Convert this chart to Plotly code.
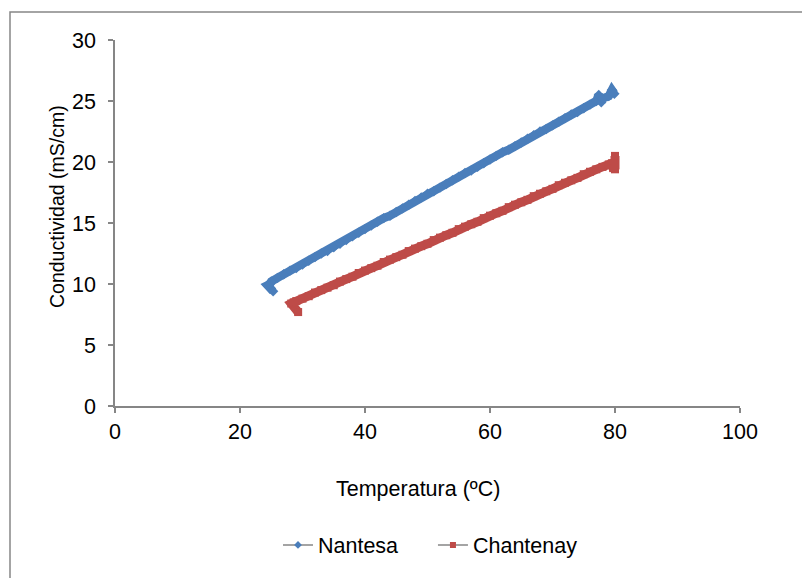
import plotly.graph_objects as go

# Temperature (ºC) and conductivity (mS/cm) readings for each variety
nantesa_temp = [25.3, 24.4, 24.8, 25.0, 26, 27, 28, 29, 30, 31, 32, 33, 34, 35, 36, 37, 38, 39,
                40, 41, 42, 43, 44, 45, 46, 47, 48, 49, 50, 51, 52, 53, 54, 55, 56, 57, 58, 59,
                60, 61, 62, 63, 64, 65, 66, 67, 68, 69, 70, 71, 72, 73, 74, 75, 76, 77, 77.4,
                77.8, 78, 79, 79.5, 79.9]
nantesa_cond = [9.4, 9.9, 10.0, 10.2, 10.5, 10.8, 11.1, 11.3, 11.6, 11.9, 12.2, 12.5, 12.7,
                13.0, 13.3, 13.6, 13.9, 14.2, 14.5, 14.8, 15.1, 15.4, 15.6, 15.9, 16.2, 16.5,
                16.8, 17.1, 17.4, 17.6, 17.9, 18.2, 18.5, 18.8, 19.1, 19.3, 19.6, 19.9, 20.2,
                20.5, 20.8, 21.0, 21.3, 21.6, 21.9, 22.2, 22.5, 22.7, 23.0, 23.3, 23.6, 23.9,
                24.1, 24.4, 24.7, 25.0, 25.5, 24.9, 25.2, 25.4, 25.9, 25.6]

chantenay_temp = [29.3, 28.2, 28.6, 29, 30, 31, 32, 33, 34, 35, 36, 37, 38, 39, 40, 41, 42, 43,
                  44, 45, 46, 47, 48, 49, 50, 51, 52, 53, 54, 55, 56, 57, 58, 59, 60, 61, 62,
                  63, 64, 65, 66, 67, 68, 69, 70, 71, 72, 73, 74, 75, 76, 77, 78, 79, 79.5,
                  79.7, 80.0, 80.0, 80.0]
chantenay_cond = [7.7, 8.4, 8.5, 8.6, 8.8, 9.0, 9.3, 9.5, 9.7, 9.9, 10.2, 10.4, 10.6, 10.9,
                  11.1, 11.3, 11.5, 11.8, 12.0, 12.2, 12.4, 12.7, 12.9, 13.1, 13.3, 13.6, 13.8,
                  14.0, 14.2, 14.5, 14.7, 14.9, 15.1, 15.4, 15.6, 15.8, 16.0, 16.3, 16.5, 16.7,
                  16.9, 17.2, 17.4, 17.6, 17.8, 18.1, 18.3, 18.5, 18.7, 19.0, 19.2, 19.4, 19.6,
                  19.8, 19.9, 19.5, 19.4, 20.0, 20.5]

x_ticks = [0, 20, 40, 60, 80, 100]
y_ticks = [0, 5, 10, 15, 20, 25, 30]

BLUE = "#4a7ebb"
RED = "#be4b48"
AXIS = "#868686"
FONT = "Liberation Sans, Arial, sans-serif"

fig = go.Figure()

# Dense readings drawn as a thick band of markers
fig.add_trace(go.Scatter(
    x=nantesa_temp, y=nantesa_cond, mode="lines+markers",
    line=dict(color=BLUE, width=8.5),
    marker=dict(symbol="diamond", size=8, color=BLUE),
    showlegend=False, hoverinfo="skip"))
fig.add_trace(go.Scatter(
    x=chantenay_temp, y=chantenay_cond, mode="lines+markers",
    line=dict(color=RED, width=9),
    marker=dict(symbol="square", size=8, color=RED),
    showlegend=False, hoverinfo="skip"))

# Legend entries: thin gray line with a small coloured marker
fig.add_trace(go.Scatter(
    x=[None], y=[None], mode="lines+markers", name="Nantesa\u00a0\u00a0\u00a0\u00a0\u00a0",
    line=dict(color=AXIS, width=1.5),
    marker=dict(symbol="diamond", size=6, color=BLUE)))
fig.add_trace(go.Scatter(
    x=[None], y=[None], mode="lines+markers", name="Chantenay",
    line=dict(color=AXIS, width=1.5),
    marker=dict(symbol="square", size=6, color=RED)))

L, R, T, B = 115, 62, 40, 172
W, H = 802, 578
pw, ph = W - L - R, H - T - B

def px_x(p):
    return (p - L) / pw

def px_y(p):
    return (H - B - p) / ph

# Outer chart frame
fig.add_shape(type="rect", xref="paper", yref="paper",
              x0=px_x(10), y0=px_y(H + 5), x1=px_x(W + 5), y1=px_y(12),
              line=dict(color=AXIS, width=1.5), fillcolor="rgba(0,0,0,0)", layer="below")

# Axis titles
fig.add_annotation(text="Temperatura (ºC)", xref="paper", yref="paper",
                   x=px_x(418), y=px_y(489), xanchor="center", yanchor="middle",
                   showarrow=False, font=dict(size=21.5))
fig.add_annotation(text="Conductividad (mS/cm)", xref="paper", yref="paper",
                   x=px_x(57), y=px_y(207), xanchor="center", yanchor="middle",
                   textangle=-90, showarrow=False, font=dict(size=19.5))

fig.update_layout(
    width=W, height=H,
    margin=dict(l=L, r=R, t=T, b=B, pad=0),
    paper_bgcolor="white", plot_bgcolor="white",
    font=dict(family=FONT, size=21.5, color="#000000"),
    showlegend=True,
    legend=dict(orientation="h", x=px_x(278), xanchor="left", y=px_y(545), yanchor="middle",
                font=dict(size=21.5), bgcolor="rgba(0,0,0,0)", itemwidth=30,
                tracegroupgap=0),
    xaxis=dict(
        range=[0, 100], tickvals=x_ticks, ticktext=[str(v) for v in x_ticks],
        showgrid=False, zeroline=False, showline=True, linecolor=AXIS, linewidth=1.5,
        ticks="outside", ticklen=5, tickwidth=1.5, tickcolor=AXIS,
        ticklabelstandoff=0, tickfont=dict(size=21.5)),
    yaxis=dict(
        range=[0, 30], tickvals=y_ticks, ticktext=[str(v) for v in y_ticks],
        showgrid=False, zeroline=False, showline=True, linecolor=AXIS, linewidth=1.5,
        ticks="outside", ticklen=5, tickwidth=1.5, tickcolor=AXIS,
        ticklabelstandoff=8, tickfont=dict(size=21.5)),
)

fig.write_html("out.html")
